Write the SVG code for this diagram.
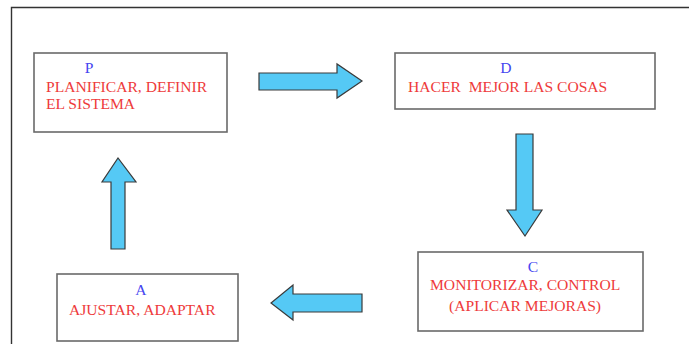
<svg xmlns="http://www.w3.org/2000/svg" width="689" height="344" viewBox="0 0 689 344">
  <style>
    .box { fill: #ffffff; stroke: #6a6a6a; stroke-width: 1.6; }
    .frame { fill: none; stroke: #333333; stroke-width: 1.4; }
    .arrow { fill: #55c9f5; stroke: #3a3a3a; stroke-width: 1.2; stroke-linejoin: miter; }
    .t { font-family: "Liberation Serif", "Times New Roman", serif; font-size: 15.6px; white-space: pre; }
    .red { fill: #ee3b3b; }
    .blue { fill: #4646f0; }
  </style>
  <rect width="689" height="344" fill="#ffffff"/>
  <!-- outer frame: top and left edges only -->
  <path class="frame" d="M11.5 344 V7.5 H689"/>

  <g id="node-p">
    <rect class="box" x="34" y="53" width="193" height="79"/>
    <text class="t blue" x="89" y="73" text-anchor="middle">P</text>
    <text class="t red" x="46" y="92">PLANIFICAR, DEFINIR</text>
    <text class="t red" x="46" y="109">EL SISTEMA</text>
  </g>

  <g id="node-d">
    <rect class="box" x="395" y="53" width="260" height="56"/>
    <text class="t blue" x="506" y="73" text-anchor="middle">D</text>
    <text class="t red" x="408" y="92">HACER  MEJOR LAS COSAS</text>
  </g>

  <g id="node-c">
    <rect class="box" x="418" y="252" width="225" height="79"/>
    <text class="t blue" x="533" y="272" text-anchor="middle">C</text>
    <text class="t red" x="430" y="290">MONITORIZAR, CONTROL</text>
    <text class="t red" x="449" y="311">(APLICAR MEJORAS)</text>
  </g>

  <g id="node-a">
    <rect class="box" x="57" y="274" width="181" height="67"/>
    <text class="t blue" x="141" y="295" text-anchor="middle">A</text>
    <text class="t red" x="69" y="315">AJUSTAR, ADAPTAR</text>
  </g>

  <g id="connectors">
    <!-- P to D -->
    <polygon class="arrow" points="259,73 337,73 337,64 362,81 337,98 337,90 259,90"/>
    <!-- D to C -->
    <polygon class="arrow" points="516,134 533,134 533,210 542,210 525,236 507,210 516,210"/>
    <!-- C to A -->
    <polygon class="arrow" points="362,294 293,294 293,285 271,303 293,320 293,312 362,312"/>
    <!-- A to P -->
    <polygon class="arrow" points="111,249 111,182 102,182 118,158 136,182 125,182 125,249"/>
  </g>
</svg>
